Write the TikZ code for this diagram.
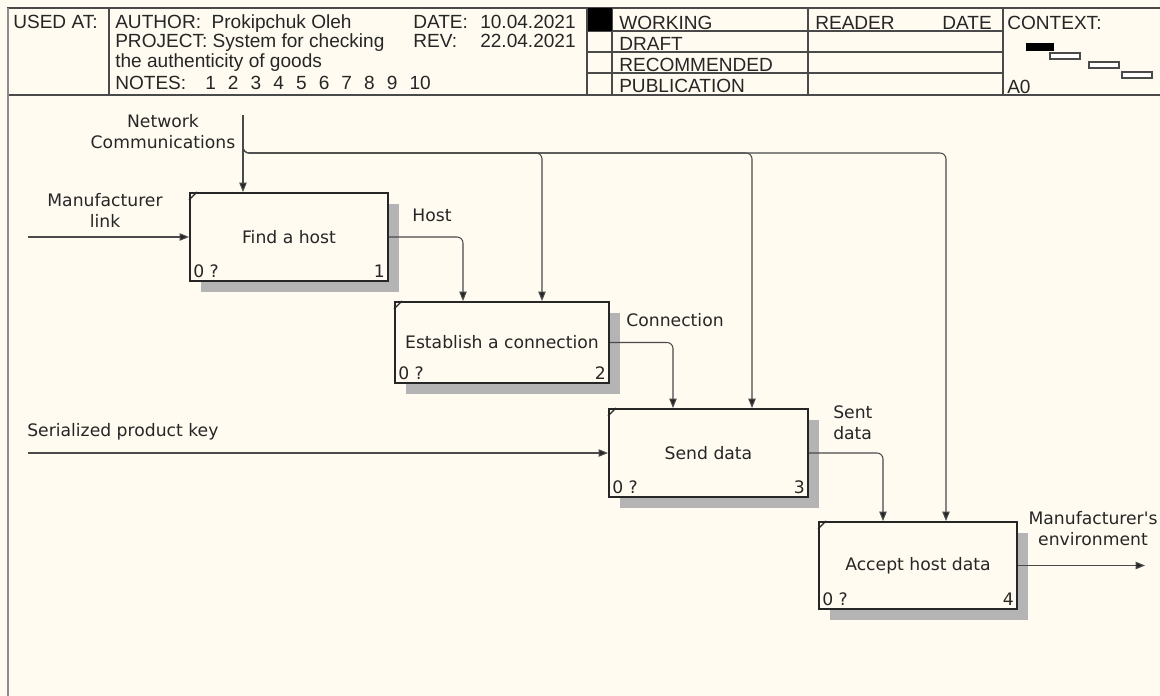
\documentclass[tikz,border=0pt]{standalone}
\usepackage{fontspec}
\setmainfont{Liberation Sans}
\newfontfamily\idefsans{DejaVu Sans}
\usetikzlibrary{arrows.meta,positioning,shadows}
\definecolor{paper}{HTML}{FFFBF0}
\definecolor{ink}{HTML}{262626}
\definecolor{rule}{HTML}{4A4A4A}
\definecolor{frame}{HTML}{8C8C8C}
\definecolor{shade}{HTML}{B4B4B4}

\begin{document}
\begin{tikzpicture}[
  x=0.75pt, y=-0.75pt,
  hdr/.style={anchor=base west, inner sep=0pt, font=\fontsize{14.3}{16}\selectfont, text=ink},
  func/.style={draw=ink, line width=1.5pt, fill=paper, align=center, inner sep=0pt,
    font=\idefsans\fontsize{12.9}{15.75}\selectfont, text=ink,
    drop shadow={shadow xshift=8.25pt, shadow yshift=-8.25pt, fill=shade, opacity=1}},
  tag/.style={font=\idefsans\fontsize{12.9}{15.75}\selectfont, text=ink, align=center, inner sep=0pt},
  corner/.style={tag, inner sep=3pt},
  arr/.style={-{Triangle[length=7pt,width=5.5pt,fill=ink]}, draw=rule, line width=0.8pt},
  rc/.style={rounded corners=4.5pt}
]
\fill[paper] (0,0) rectangle (1160,696);
\useasboundingbox (0,0) rectangle (1160,696);

% header
\draw[rule, line width=1.1pt] (8,8) rectangle (1164,95);
\draw[frame, line width=1.6pt] (8,8) -- (8,700);
\foreach \x in {109,587,612,808,1003}
  \draw[rule, line width=0.9pt] (\x,8) -- (\x,95);
\foreach \y in {31,52,73}
  \draw[rule, line width=0.9pt] (587,\y) -- (1003,\y);
\fill[black] (588,8) rectangle (612,31);
\fill[black] (1026,43) rectangle (1054,51);
\foreach \a/\b in {1050/53, 1089/62, 1122/72}
  \draw[rule, line width=0.8pt, fill=white] (\a,\b) rectangle ++(30,6);

\node[hdr] (usedat) at (13,28) {USED AT:};
\node[hdr] (author) at (115,28) {AUTHOR:\ \ Prokipchuk Oleh};
\node[hdr] (datekey) at (413,28) {DATE:};
\node[hdr] (dateval) at (480,28) {10.04.2021};
\node[hdr] (project) at (115,47) {PROJECT: System for checking};
\node[hdr] (revkey) at (413,47) {REV:};
\node[hdr] (revval) at (480,47) {22.04.2021};
\node[hdr] (projectb) at (115,67) {the authenticity of goods};
\node[hdr] (notes) at (115,89) {NOTES:};
\foreach \n [count=\i from 0] in {1,...,10}
  \node[hdr] (note\n) at ({205+22.7*\i},89) {\n};
\foreach \s/\y [count=\i] in {WORKING/29, DRAFT/50, RECOMMENDED/71, PUBLICATION/92}
  \node[hdr] (status\i) at (619,\y) {\s};
\node[hdr] (reader) at (815,29) {READER};
\node[hdr, anchor=base east] (readdate) at (992,29) {DATE};
\node[hdr] (context) at (1007,29) {CONTEXT:};
\node[hdr] (diagid) at (1007,93) {A0};

% activities
\node[func, minimum width=148.5pt, minimum height=66pt,
  label={[corner, anchor=south west]south west:0 ?},
  label={[corner, anchor=south east]south east:1}] (f1) at (289,237) {Find a host};
\node[func, minimum width=160.5pt, minimum height=60.75pt,
  label={[corner, anchor=south west]south west:0 ?},
  label={[corner, anchor=south east]south east:2}] (f2) at (502,342.5) {Establish a connection};
\node[func, minimum width=149.25pt, minimum height=66pt,
  label={[corner, anchor=south west]south west:0 ?},
  label={[corner, anchor=south east]south east:3}] (f3) at (708.5,453) {Send data};
\node[func, minimum width=148.5pt, minimum height=65.25pt,
  label={[corner, anchor=south west]south west:0 ?},
  label={[corner, anchor=south east]south east:4}] (f4) at (918,565.5) {Accept host data};
\foreach \f in {f1,f2,f3,f4}
  \draw[ink, line width=1pt] ([yshift=-6pt]\f.north west) -- ([xshift=6pt]\f.north west);

% arrow labels
\node[tag] (lnet) at (163,131.5) {Network\\Communications};
\node[tag] (llink) at (105,210) {Manufacturer\\link};
\node[tag] (lhost) at (432,215) {Host};
\node[tag] (lconn) at (675,320) {Connection};
\node[tag, anchor=west] (lkey) at (27,432) {Serialized product key};
\node[tag, align=left, anchor=west] (lsent) at (833,423) {Sent\\data};
\node[tag] (lenv) at (1093,529) {Manufacturer's\\environment};

% arrows
\coordinate (netin) at (243,115);
\coordinate (netbus) at (243,143);
\coordinate (linkin) at (28,0);
\coordinate (hostx) at (463,0);
\coordinate (connx) at (673,0);
\coordinate (sentx) at (883,0);
\coordinate (envout) at (1145,0);
\draw[arr] (netin) -- (netin |- f1.north);
\foreach \f/\x in {f2/542, f3/752, f4/946}
  \draw[arr, rc] (netbus) |- (\x,153) -- (\x,153 |- \f.north);
\draw[arr] (linkin |- f1.west) -- (f1.west);
\draw[arr] (linkin |- f3.west) -- (f3.west);
\draw[arr, rc] (f1.east) -| (hostx |- f2.north);
\draw[arr, rc] (f2.east) -| (connx |- f3.north);
\draw[arr, rc] (f3.east) -| (sentx |- f4.north);
\draw[arr] (f4.east) -- (f4.east -| envout);
\end{tikzpicture}
\end{document}
